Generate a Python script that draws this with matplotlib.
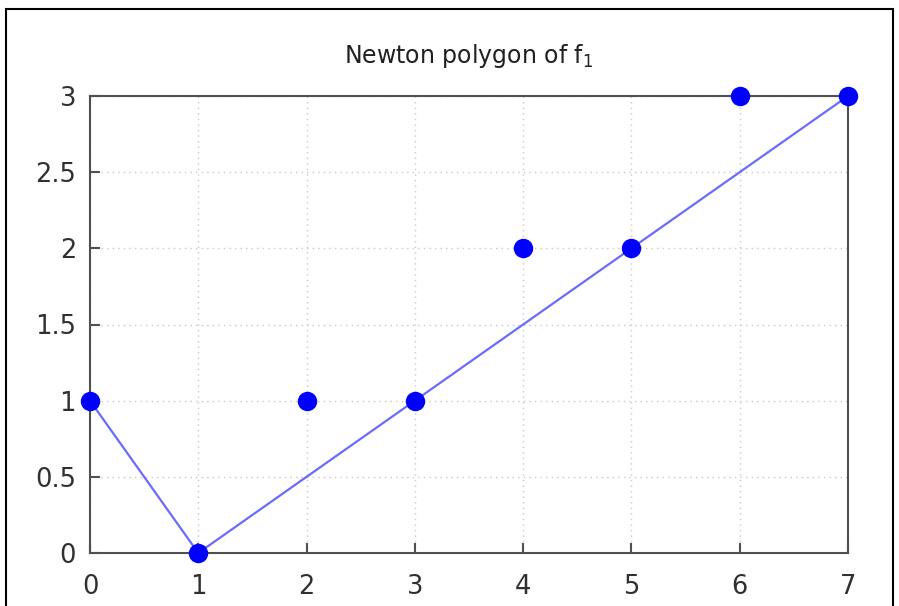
import matplotlib
matplotlib.use("Agg")
import matplotlib.pyplot as plt
from matplotlib.patches import Rectangle

# data
pts_x = [0, 1, 2, 3, 4, 5, 6, 7]
pts_y = [1, 0, 1, 1, 2, 2, 3, 3]
poly_x = [0, 1, 3, 5, 7]
poly_y = [1, 0, 1, 2, 3]
xticks = [0, 1, 2, 3, 4, 5, 6, 7]
yticks = [0, 0.5, 1, 1.5, 2, 2.5, 3]
ytick_labels = ["0", "0.5", "1", "1.5", "2", "2.5", "3"]
title = "Newton polygon of f$_1$"

fig = plt.figure(figsize=(8.99, 6.06), dpi=100)
ax = fig.add_axes([90/899, 1-553/606, (848-90)/899, (553-96)/606])

axc = "#505050"
ax.plot(poly_x, poly_y, color="#6b6bff", lw=1.6, zorder=2, clip_on=False)
ax.plot(pts_x, pts_y, "o", color="#0000ff", ms=14, zorder=3, clip_on=False, mec="none")

ax.set_xlim(0, 7)
ax.set_ylim(0, 3)
ax.set_xticks(xticks)
ax.set_yticks(yticks)
ax.set_yticklabels(ytick_labels)
ax.grid(True, color="#c8c8c8", ls=(0, (1, 3)), lw=1)
ax.set_axisbelow(True)
for s in ax.spines.values():
    s.set_color(axc)
    s.set_linewidth(1.5)
ax.tick_params(direction="in", length=7, width=1.5, color=axc, labelcolor="#303030",
               labelsize=18.5)
ax.tick_params(axis="y", pad=10)
ax.tick_params(axis="x", pad=15)
ax.set_title(title, fontsize=17, color="#202020", pad=24)

fig.patches.append(Rectangle((6/899, -0.1), (893-6)/899, 1.1 - 9/606,
                             transform=fig.transFigure, fill=False,
                             edgecolor="black", lw=1.5))
fig.savefig("out.png", dpi=100)
